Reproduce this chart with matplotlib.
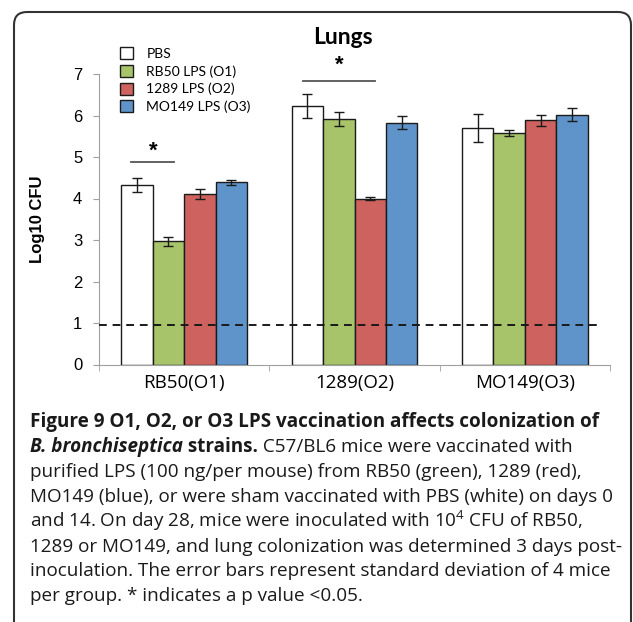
import matplotlib
matplotlib.use('Agg')
import matplotlib.pyplot as plt
from matplotlib.patches import FancyBboxPatch
from matplotlib.transforms import IdentityTransform
import numpy as np

plt.rcParams['font.family'] = 'Liberation Sans'
plt.rcParams['mathtext.fontset'] = 'custom'
plt.rcParams['mathtext.rm'] = 'Open Sans'

strains = ['RB50(O1)', '1289(O2)', 'MO149(O3)']
groups = ['PBS', 'RB50 LPS (O1)', '1289 LPS (O2)', 'MO149 LPS (O3)']
pbs = [4.33, 6.23, 5.70]
pbs_sd = [0.17, 0.30, 0.33]
rb50 = [2.97, 5.92, 5.58]
rb50_sd = [0.11, 0.17, 0.08]
lps1289 = [4.11, 4.00, 5.88]
lps1289_sd = [0.13, 0.03, 0.14]
mo149 = [4.39, 5.83, 6.02]
mo149_sd = [0.06, 0.15, 0.15]
detection_limit = 0.95

colors = ['white', '#a8c46b', '#cd625f', '#5e94ca']

fig = plt.figure(figsize=(6.33, 6.22), dpi=100)
ax = fig.add_axes([99 / 633, 1 - 364.5 / 622, 511 / 633, 290.5 / 622])

x = np.arange(len(strains))
w = 0.184
series = [(pbs, pbs_sd), (rb50, rb50_sd), (lps1289, lps1289_sd), (mo149, mo149_sd)]
handles = []
for i, (vals, sd) in enumerate(series):
    b = ax.bar(x + (i - 1.5) * w, vals, w, color=colors[i], edgecolor='#1a1a1a',
               linewidth=1.0, yerr=sd, capsize=3.5,
               error_kw=dict(ecolor='#1a1a1a', elinewidth=1.0, capthick=1.0),
               label=groups[i], zorder=2)
    handles.append(b)

ax.axhline(detection_limit, xmin=0, xmax=0.984, color='#1a1a1a', lw=1.4,
           dashes=(4, 3), zorder=3)

# significance marks
ax.plot([-0.31, -0.06], [4.88, 4.88], color='#555555', lw=1.3)
ax.text(-0.18, 5.15, '*', ha='center', va='center', fontsize=16, fontweight='bold')
ax.plot([0.70, 1.12], [6.84, 6.84], color='#555555', lw=1.3, clip_on=False)
ax.text(0.91, 7.2, '*', ha='center', va='center', fontsize=16, fontweight='bold',
        clip_on=False)

ax.set_xlim(-0.5, 2.5)
ax.set_ylim(0, 7)
ax.set_yticks(range(8))
ax.tick_params(axis='y', labelsize=12, length=4, color='#a0a0a0', pad=8)
ax.set_xticks(x)
ax.set_xticklabels(strains, fontfamily='Open Sans', fontsize=13.5)
ax.set_xticks([-0.5, 0.5, 1.5, 2.5], minor=True)
ax.tick_params(axis='x', which='major', length=0, pad=7)
ax.tick_params(axis='x', which='minor', length=4, color='#a0a0a0')
for s in ['top', 'right']:
    ax.spines[s].set_visible(False)
for s in ['left', 'bottom']:
    ax.spines[s].set_color('#a0a0a0')
ax.set_ylabel('Log10 CFU', fontsize=12, fontweight='bold')
ax.yaxis.set_label_coords(-0.105, 0.5)

leg = ax.legend(handles=handles, loc='upper left', bbox_to_anchor=(120 / 633, 1 - 47 / 622),
                bbox_transform=fig.transFigure, frameon=False, borderpad=0,
                prop={'family': 'Lato', 'size': 10}, handlelength=0.95,
                handleheight=0.95, handletextpad=0.95, labelspacing=0.36,
                borderaxespad=0)
for h in leg.legend_handles:
    h.set_edgecolor('#1a1a1a')

fig.text(343 / 633, 1 - 37 / 622, 'Lungs', ha='center', va='center', fontsize=16.5,
         fontweight='bold', fontfamily='Lato')

# frame round the figure
box = FancyBboxPatch((14, -60), 617, 622 - 12 + 60, boxstyle='round,pad=0,rounding_size=13',
                     transform=IdentityTransform(), facecolor='none', edgecolor='#333333',
                     linewidth=1.5)
fig.patches.append(box)

# caption
cap_font = 'Open Sans'
cap_size = 13.6
renderer = fig.canvas.get_renderer()


def runs(y, parts):
    xpos = 30
    for txt, weight, style in parts:
        t = fig.text(xpos / 633, 1 - y / 622, txt, ha='left', va='baseline',
                     fontsize=cap_size, fontfamily=cap_font, fontweight=weight,
                     fontstyle=style, color='#1a1a1a')
        bb = t.get_window_extent(renderer)
        xpos += bb.width


lines = [
    [('Figure 9 O1, O2, or O3 LPS vaccination affects colonization of', 'bold', 'normal')],
    [('B. bronchiseptica', 'bold', 'italic'), (' strains.', 'bold', 'normal'),
     (' C57/BL6 mice were vaccinated with', 'normal', 'normal')],
    [('purified LPS (100 ng/per mouse) from RB50 (green), 1289 (red),', 'normal', 'normal')],
    [('MO149 (blue), or were sham vaccinated with PBS (white) on days 0', 'normal', 'normal')],
    [('and 14. On day 28, mice were inoculated with 10$^4$ CFU of RB50,', 'normal', 'normal')],
    [('1289 or MO149, and lung colonization was determined 3 days post-', 'normal', 'normal')],
    [('inoculation. The error bars represent standard deviation of 4 mice', 'normal', 'normal')],
    [('per group. * indicates a p value <0.05.', 'normal', 'normal')],
]
for k, parts in enumerate(lines):
    runs(427 + k * 24.9, parts)

fig.savefig('out.png', dpi=100)
